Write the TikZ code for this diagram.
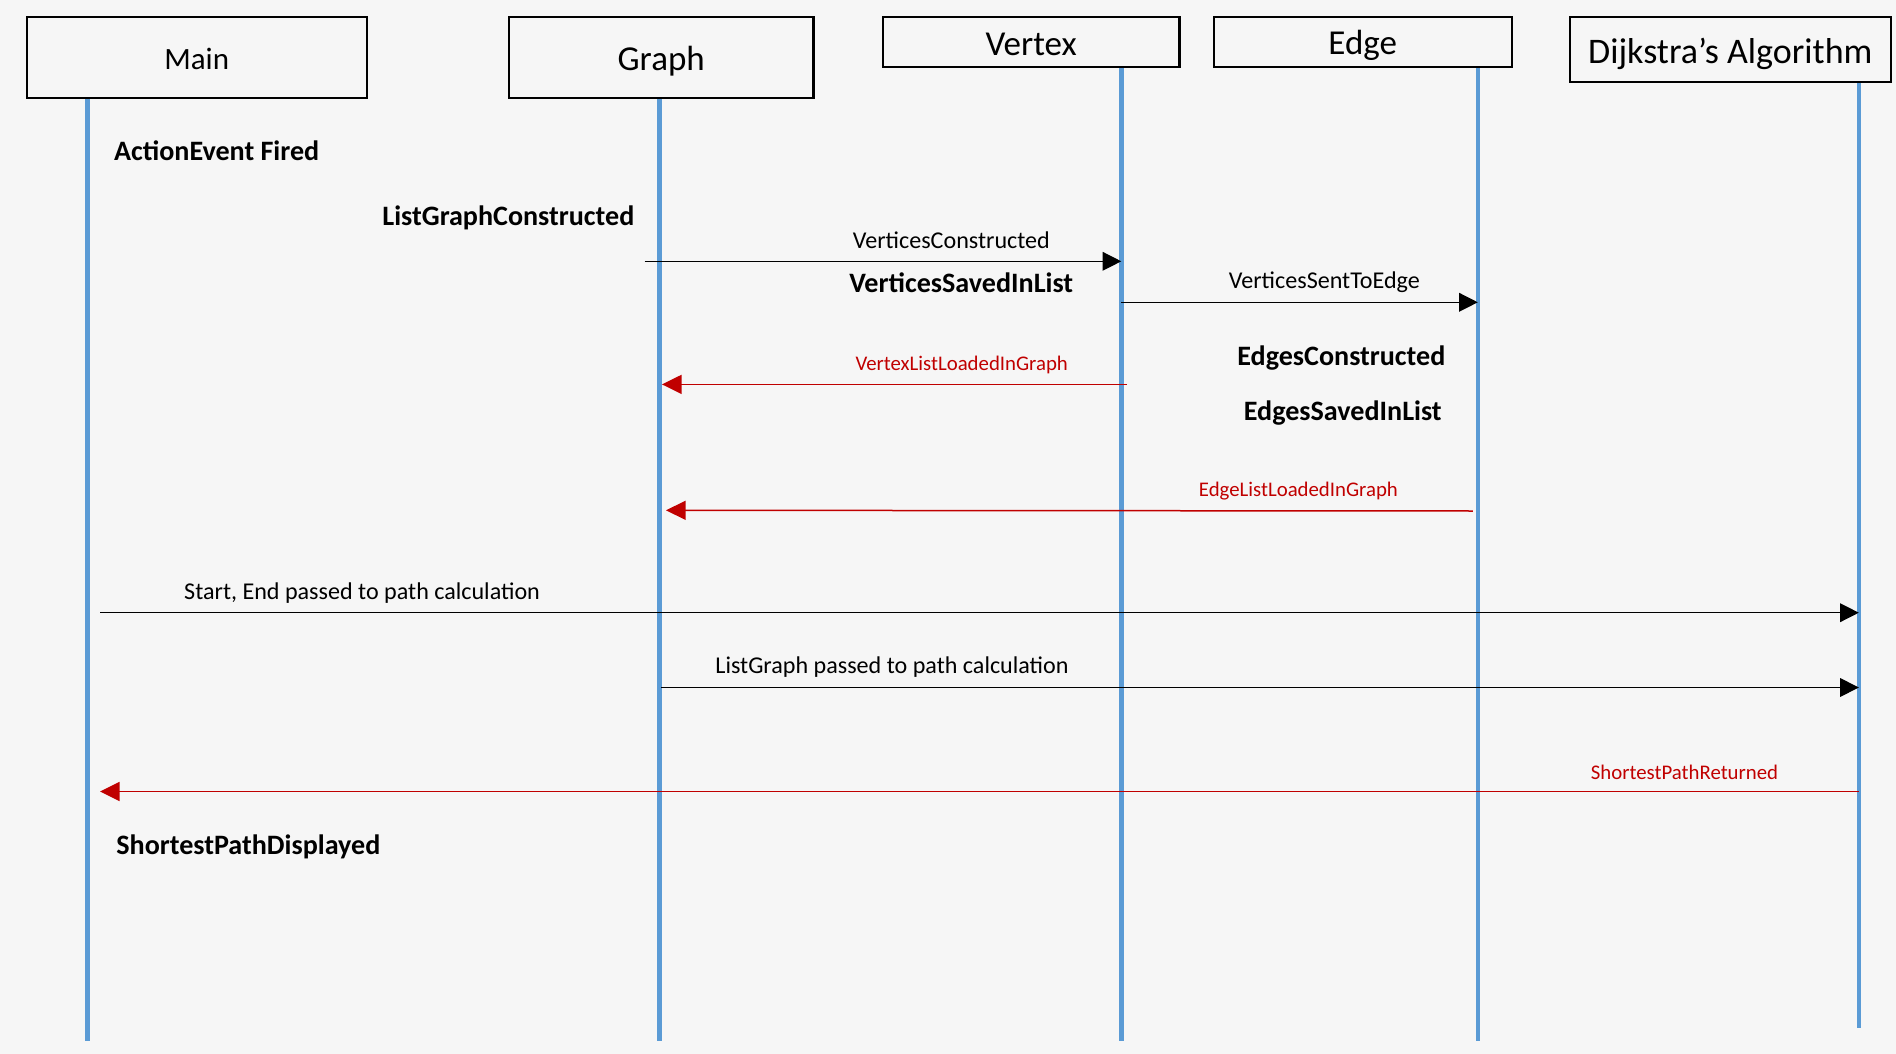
\documentclass[tikz,border=0pt]{standalone}
\usepackage{fontspec}
\setmainfont{Carlito}
\usepackage{tikz}
\usetikzlibrary{positioning, arrows.meta}

\definecolor{lifeblue}{HTML}{5B9BD5}
\definecolor{replyred}{HTML}{C00000}
\definecolor{slidebg}{HTML}{F6F6F6}

\tikzset{
  lifebox/.style={draw=black, line width=1.1pt, inner sep=0pt},
  lifeline/.style={draw=lifeblue, line width=2.2pt},
  callmsg/.style={draw=black, line width=0.65pt, -{Triangle[length=9.3pt, width=9.3pt]}},
  replymsg/.style={draw=replyred, line width=0.75pt, -{Triangle[length=9.8pt, width=9.5pt]}},
  calllabel/.style={font=\fontsize{12.05pt}{14pt}\selectfont, inner sep=0pt},
  replylabel/.style={font=\fontsize{10.4pt}{12pt}\selectfont, text=replyred, inner sep=0pt, anchor=base},
  stepnote/.style={font=\fontsize{14.05pt}{16pt}\selectfont\bfseries, inner sep=0pt, anchor=base west},
}

\begin{document}
\begin{tikzpicture}[x=0.5pt, y=-0.5pt]
  % ── slide background ──
  \fill[slidebg] (0,0) rectangle (1896,1054);
  \useasboundingbox (0,0) rectangle (1896,1054);

  % ── participants and their lifelines ──
  \foreach \n/\cx/\cy/\w/\h/\fs/\dn/\lx/\ty/\by/\txt in {
    main/196.7/57.5/170/40.8/15.5/0.6/87.5/98.3/1041/Main,
    graph/661.2/57.5/152.2/40.8/17.5/1.8/659.4/98.3/1041/Graph,
    vertex/1031.1/41.9/148.4/25.2/17.5/1.2/1121.3/67/1041/Vertex,
    edge/1362.7/41.9/149.1/25.2/17.5/1.8/1477.8/67/1041/Edge,
    dijkstra/1730.3/49.4/160.5/32.7/18/2.4/1858.8/82/1028/{Dijkstra’s Algorithm}} {
    \coordinate (top\n) at (\lx,\ty);
    \coordinate (bot\n) at (\lx,\by);
    \draw[lifeline] (top\n) -- (bot\n);
    \node[lifebox, minimum width=\w pt, minimum height=\h pt] (\n) at (\cx,\cy) {};
    \node[font=\fontsize{\fs pt}{20pt}\selectfont, inner sep=0pt] (\n lbl)
      at ([yshift=-\dn pt]\n.center) {\txt};
  }

  % ── notes on the lifelines ──
  \node[stepnote] (fired) at (113.7,160.7) {ActionEvent Fired};
  \node[stepnote] (listbuilt) at (382,225.7) {ListGraphConstructed};
  \node[stepnote] (vsaved) at (848.9,292) {VerticesSavedInList};
  \node[stepnote] (ebuilt) at (1237,365.7) {EdgesConstructed};
  \node[stepnote] (esaved) at (1243.5,420) {EdgesSavedInList};
  \node[stepnote] (shown) at (116,854.3) {ShortestPathDisplayed};

  % ── Graph -> Vertex -> Edge ──
  \coordinate (m1) at (644.5,261.3);
  \draw[callmsg] (m1) -- (topvertex |- m1);
  \node[calllabel, anchor=base] (m1lbl) at (951.3,248.3) {VerticesConstructed};

  \coordinate (m2) at (1121.3,302.3);
  \draw[callmsg] (m2) -- (topedge |- m2);
  \node[calllabel, anchor=base] (m2lbl) at (1324.3,288.3) {VerticesSentToEdge};

  % ── lists loaded back into Graph ──
  \coordinate (r1s) at (1127,384.4);
  \coordinate (r1e) at (662,384.4);
  \draw[replymsg] (r1s) -- (r1e);
  \node[replylabel] (r1lbl) at (961.7,370) {VertexListLoadedInGraph};

  \coordinate (r2s) at (1472.8,511);
  \coordinate (r2e) at (666,510.3);
  \draw[replymsg] (r2s) -- (r2e);
  \node[replylabel] (r2lbl) at (1298.4,496.7) {EdgeListLoadedInGraph};

  % ── path calculation ──
  \coordinate (m3) at (100,612.7);
  \draw[callmsg] (m3) -- (topdijkstra |- m3);
  \node[calllabel, anchor=base west] (m3lbl) at (183.8,599) {Start, End passed to path calculation};

  \coordinate (m4) at (661.4,687.5);
  \draw[callmsg] (m4) -- (topdijkstra |- m4);
  \node[calllabel, anchor=base west] (m4lbl) at (715,673.3) {ListGraph passed to path calculation};

  \coordinate (r3e) at (100,791.5);
  \draw[replymsg] (topdijkstra |- r3e) -- (r3e);
  \node[replylabel] (r3lbl) at (1684.5,779) {ShortestPathReturned};
\end{tikzpicture}
\end{document}
